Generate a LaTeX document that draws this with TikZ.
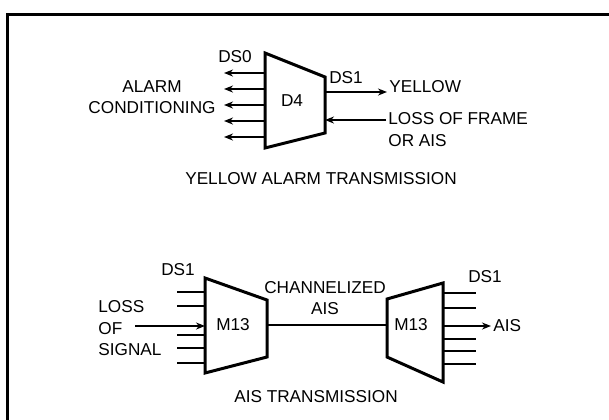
\documentclass[tikz,border=0pt]{standalone}
\usepackage{fontspec}
\setmainfont{Liberation Sans}
\usetikzlibrary{arrows.meta,calc}

\begin{document}
\begin{tikzpicture}[x=0.5pt,y=-0.5pt,
  font=\fontsize{8.6}{10.8}\selectfont,
  tr/.style={draw=black,line width=1.5pt,line join=miter},
  ln/.style={line width=1pt},
  ar/.style={-{Stealth[length=4.5pt,width=3.5pt]},line width=1pt},
  lb/.style={inner sep=1pt,align=center}]
  \useasboundingbox (0,0) rectangle (609,419);
  \draw[line width=1.5pt,line join=miter] (614,14) -- (7,14) -- (7,424);
  % yellow alarm transmission
  \coordinate (d4a) at (265,53);  \coordinate (d4b) at (325,77);
  \coordinate (d4c) at (325,133); \coordinate (d4d) at (265,148);
  \draw[tr] (d4a) -- (d4b) -- (d4c) -- (d4d) -- cycle;
  \node (d4) at (292,101) {D4};
  \node[lb] (ds0) at (235,57) {DS0};
  \foreach \y [count=\i] in {73,89,105,121,137}
    {\coordinate (al\i) at (224,\y); \draw[ar] (d4a |- al\i) -- (al\i);}
  \node[lb] (alarm) at (152,97) {ALARM\\CONDITIONING};
  \node[lb] (ds1a) at (346,78) {DS1};
  \node[lb,anchor=base west] (yel) at (387,92) {YELLOW};
  \draw[ar] (d4b |- yel.base) -- (yel.base west);
  \coordinate (lf) at (386,120);
  \node[lb,align=left,anchor=north west] (lof) at (386,110) {LOSS OF FRAME\\OR AIS};
  \draw[ar] (lf) -- (d4b |- lf);
  \node (ttl1) at (321,179) {YELLOW ALARM TRANSMISSION};
  % ais transmission
  \coordinate (m1a) at (205,278); \coordinate (m1b) at (267,300);
  \coordinate (m1c) at (267,357); \coordinate (m1d) at (205,373);
  \draw[tr] (m1a) -- (m1b) -- (m1c) -- (m1d) -- cycle;
  \coordinate (m2a) at (387,299); \coordinate (m2b) at (443,283);
  \coordinate (m2c) at (443,382); \coordinate (m2d) at (387,357);
  \draw[tr] (m2a) -- (m2b) -- (m2c) -- (m2d) -- cycle;
  \node (m1) at (233,325) {M13};
  \node (m2) at (411,325) {M13};
  \node[lb] (ds1b) at (178,270) {DS1};
  \foreach \y [count=\i] in {292,306,335,348,363}
    {\coordinate (li\i) at (177,\y); \draw[ln] (li\i) -- (m1a |- li\i);}
  \node[lb,align=left,anchor=north west] (los) at (96,298) {LOSS\\OF\\SIGNAL};
  \coordinate (lsg) at (135,326);
  \draw[ar] (lsg) -- (m1a |- lsg);
  \draw[ln] (m1b |- m1) -- (m2a |- m1);
  \node[lb] (chan) at (325,298) {CHANNELIZED\\AIS};
  \node[lb] (ds1c) at (485,277) {DS1};
  \foreach \y [count=\i] in {293,308,339,351,364}
    {\coordinate (ro\i) at (476,\y); \draw[ln] (m2b |- ro\i) -- (ro\i);}
  \node[lb,anchor=west] (ais) at (491,326) {AIS};
  \draw[ar] (m2b |- ais) -- (ais.west);
  \node (ttl2) at (316,397) {AIS TRANSMISSION};
\end{tikzpicture}
\end{document}
